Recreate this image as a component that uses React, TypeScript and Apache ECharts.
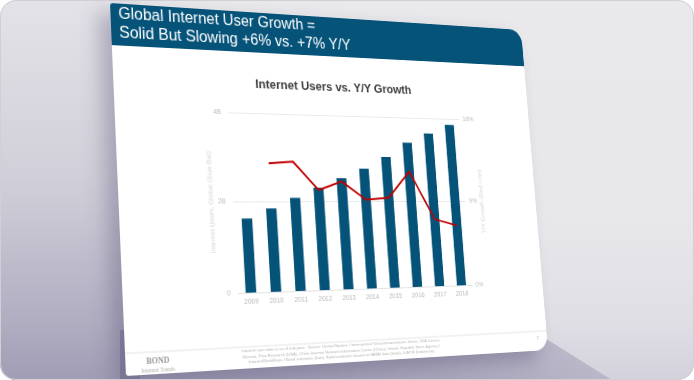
import React, { useEffect, useRef } from "react";
import * as echarts from "echarts";

// ---- data ----
const years = ["2009", "2010", "2011", "2012", "2013", "2014", "2015", "2016", "2017", "2018"];
const usersBillions = [1.63, 1.85, 2.09, 2.32, 2.54, 2.77, 3.05, 3.4, 3.63, 3.85];
const growthPct: (number | null)[] = [null, 12.9, 13.1, 10.2, 11.1, 9.2, 9.4, 12.2, 7.1, 6.4];
const headerLines = ["Global Internet User Growth =", "Solid But Slowing +6% vs. +7% Y/Y"];
const chartTitle = "Internet Users vs. Y/Y Growth";
const leftAxisName = "Internet Users, Global (Blue Bar)";
const rightAxisName = "Y/Y Growth (Red Line)";
const footnoteLines = [
  "Internet user data is as of mid-year.  Source: United Nations / International Telecommunications Union, USA Census",
  "Bureau, Pew Research (USA), China Internet Network Information Center (China), Islamic Republic News Agency /",
  "InternetWorldStats / Bond estimates (Iran). Bond estimates based on IAMAI data (India), & APJII (Indonesia).",
];
const brandLines = ["BOND", "Internet Trends"];
const pageNumber = "7";

const SLIDE_W = 480;
const SLIDE_H = 360;
const QUAD: [number, number][] = [
  [110, 3],
  [521, 30],
  [548, 350],
  [126, 376],
];

function quadTransform(w: number, h: number, q: [number, number][]) {
  const [[x0, y0], [x1, y1], [x2, y2], [x3, y3]] = q;
  const dx1 = x1 - x2, dx2 = x3 - x2, dx3 = x0 - x1 + x2 - x3;
  const dy1 = y1 - y2, dy2 = y3 - y2, dy3 = y0 - y1 + y2 - y3;
  const det = dx1 * dy2 - dx2 * dy1;
  const g = (dx3 * dy2 - dx2 * dy3) / det;
  const hh = (dx1 * dy3 - dx3 * dy1) / det;
  const a = x1 - x0 + g * x1, b = x3 - x0 + hh * x3, c = x0;
  const d = y1 - y0 + g * y1, e = y3 - y0 + hh * y3, f = y0;
  const A = a / w, B = b / h, D = d / w, E = e / h, G = g / w, H = hh / h;
  return `matrix3d(${A},${D},0,${G},${B},${E},0,${H},0,0,1,0,${c},${f},0,1)`;
}

const FONT = '"Liberation Sans", Arial, sans-serif';
const BLUE = "#065379";

export default function App() {
  const ref = useRef<HTMLDivElement>(null);

  useEffect(() => {
    document.body.style.margin = "0";
    if (!ref.current) return;
    const chart = echarts.init(ref.current, undefined, { renderer: "svg", width: SLIDE_W, height: SLIDE_H });
    chart.setOption({
      animation: false,
      backgroundColor: "#ffffff",
      textStyle: { fontFamily: FONT },
      title: {
        text: chartTitle,
        left: "center",
        top: 68,
        padding: 0,
        textStyle: { fontSize: 13, fontWeight: "bold", color: "#3c3c3c", fontFamily: FONT },
      },
      grid: { left: 118, right: 91, top: 105, bottom: 74 },
      xAxis: {
        type: "category",
        data: years,
        axisTick: { show: false },
        axisLine: { lineStyle: { color: "#e2e2e2" } },
        axisLabel: { color: "#b8b8b8", fontSize: 7, margin: 6 },
      },
      yAxis: [
        {
          type: "value",
          min: 0,
          max: 4,
          interval: 2,
          name: leftAxisName,
          nameLocation: "middle",
          nameGap: 20,
          nameRotate: 90,
          nameMoveOverlap: false,
          nameTextStyle: { color: "#d2d2d2", fontSize: 7 },
          axisLabel: { formatter: (v: number) => (v === 0 ? "0" : v + "B"), color: "#bdbdbd", fontSize: 7, margin: 8 },
          axisLine: { show: false },
          axisTick: { show: false },
          splitLine: { lineStyle: { color: "#e9e9e9" } },
        },
        {
          type: "value",
          min: 0,
          max: 18,
          interval: 9,
          position: "right",
          name: rightAxisName,
          nameLocation: "middle",
          nameGap: 17,
          nameRotate: 90,
          nameMoveOverlap: false,
          nameTextStyle: { color: "#d2d2d2", fontSize: 7 },
          axisLabel: { formatter: "{value}%", color: "#bdbdbd", fontSize: 7, margin: 4 },
          axisLine: { show: false },
          axisTick: { show: false },
          splitLine: { show: false },
        },
      ],
      series: [
        {
          type: "bar",
          data: usersBillions,
          barWidth: "42%",
          itemStyle: { color: BLUE },
        },
        {
          type: "line",
          yAxisIndex: 1,
          data: growthPct,
          symbol: "none",
          lineStyle: { color: "#c00000", width: 2 },
        },
      ],
      graphic: [
        { type: "rect", shape: { x: 0, y: 0, width: SLIDE_W, height: 42 }, style: { fill: BLUE } },
        ...headerLines.map((t, i) => ({
          type: "text",
          x: 8,
          y: 9 + i * 19,
          style: { text: t, fill: "#ffffff", fontSize: 16, fontFamily: FONT, textAlign: "left", textVerticalAlign: "middle" },
        })),
        { type: "line", shape: { x1: 0, y1: 339, x2: SLIDE_W, y2: 339 }, style: { stroke: "#e4e4e4", lineWidth: 1 } },
        {
          type: "text",
          x: 32,
          y: 348,
          style: { text: brandLines[0], fill: "#9a9a9a", fontSize: 8, fontWeight: "bold", fontFamily: '"Liberation Serif", serif', textAlign: "center", textVerticalAlign: "middle" },
        },
        {
          type: "text",
          x: 32,
          y: 356,
          style: { text: brandLines[1], fill: "#b0b0b0", fontSize: 5.5, fontFamily: '"Liberation Serif", serif', textAlign: "center", textVerticalAlign: "middle" },
        },
        ...footnoteLines.map((t, i) => ({
          type: "text",
          x: 231,
          y: 343 + i * 5.5,
          style: { text: t, fill: "#b5b5b5", fontSize: 4.4, fontFamily: FONT, textAlign: "center", textVerticalAlign: "middle" },
        })),
        {
          type: "text",
          x: 468,
          y: 346,
          style: { text: pageNumber, fill: "#b5b5b5", fontSize: 6, fontFamily: FONT, textAlign: "center", textVerticalAlign: "middle" },
        },
      ],
    });
    return () => chart.dispose();
  }, []);

  return (
    <div
      style={{
        position: "fixed",
        left: 0,
        top: 0,
        width: 694,
        height: 380,
        overflow: "hidden",
        borderRadius: 16,
        background: "linear-gradient(180deg, #e9e9ec 0%, #e7e7ea 60%, #dfdee5 85%, #d3d1db 100%)",
      }}
    >
      <div
        style={{
          position: "absolute",
          left: 0,
          top: 0,
          width: 140,
          height: 380,
          background:
            "linear-gradient(180deg, rgba(130,125,158,0.06) 0%, rgba(130,125,158,0.22) 45%, rgba(130,125,158,0.5) 85%, rgba(130,125,158,0.62) 100%)",
        }}
      />
      <div
        style={{
          position: "absolute",
          left: 0,
          top: 0,
          width: 694,
          height: 380,
          clipPath: "polygon(120px 330px, 548px 340px, 612px 380px, 120px 380px)",
          background:
            "linear-gradient(90deg, rgba(120,115,150,0.62) 0%, rgba(120,115,150,0.55) 30%, rgba(120,115,150,0.45) 65%, rgba(120,115,150,0.28) 88%)",
        }}
      />
      <div
        ref={ref}
        style={{
          position: "absolute",
          left: 0,
          top: 0,
          width: SLIDE_W,
          height: SLIDE_H,
          transformOrigin: "0 0",
          transform: quadTransform(SLIDE_W, SLIDE_H, QUAD),
          borderRadius: "3px 16px 16px 3px",
          overflow: "hidden",
          boxShadow: "-12px 10px 20px rgba(80,72,110,0.35)",
        }}
      />
      <div
        style={{
          position: "absolute",
          left: 0,
          top: 0,
          width: 694,
          height: 380,
          boxSizing: "border-box",
          borderRadius: 16,
          border: "1px solid #cfcfd4",
          pointerEvents: "none",
        }}
      />
    </div>
  );
}
